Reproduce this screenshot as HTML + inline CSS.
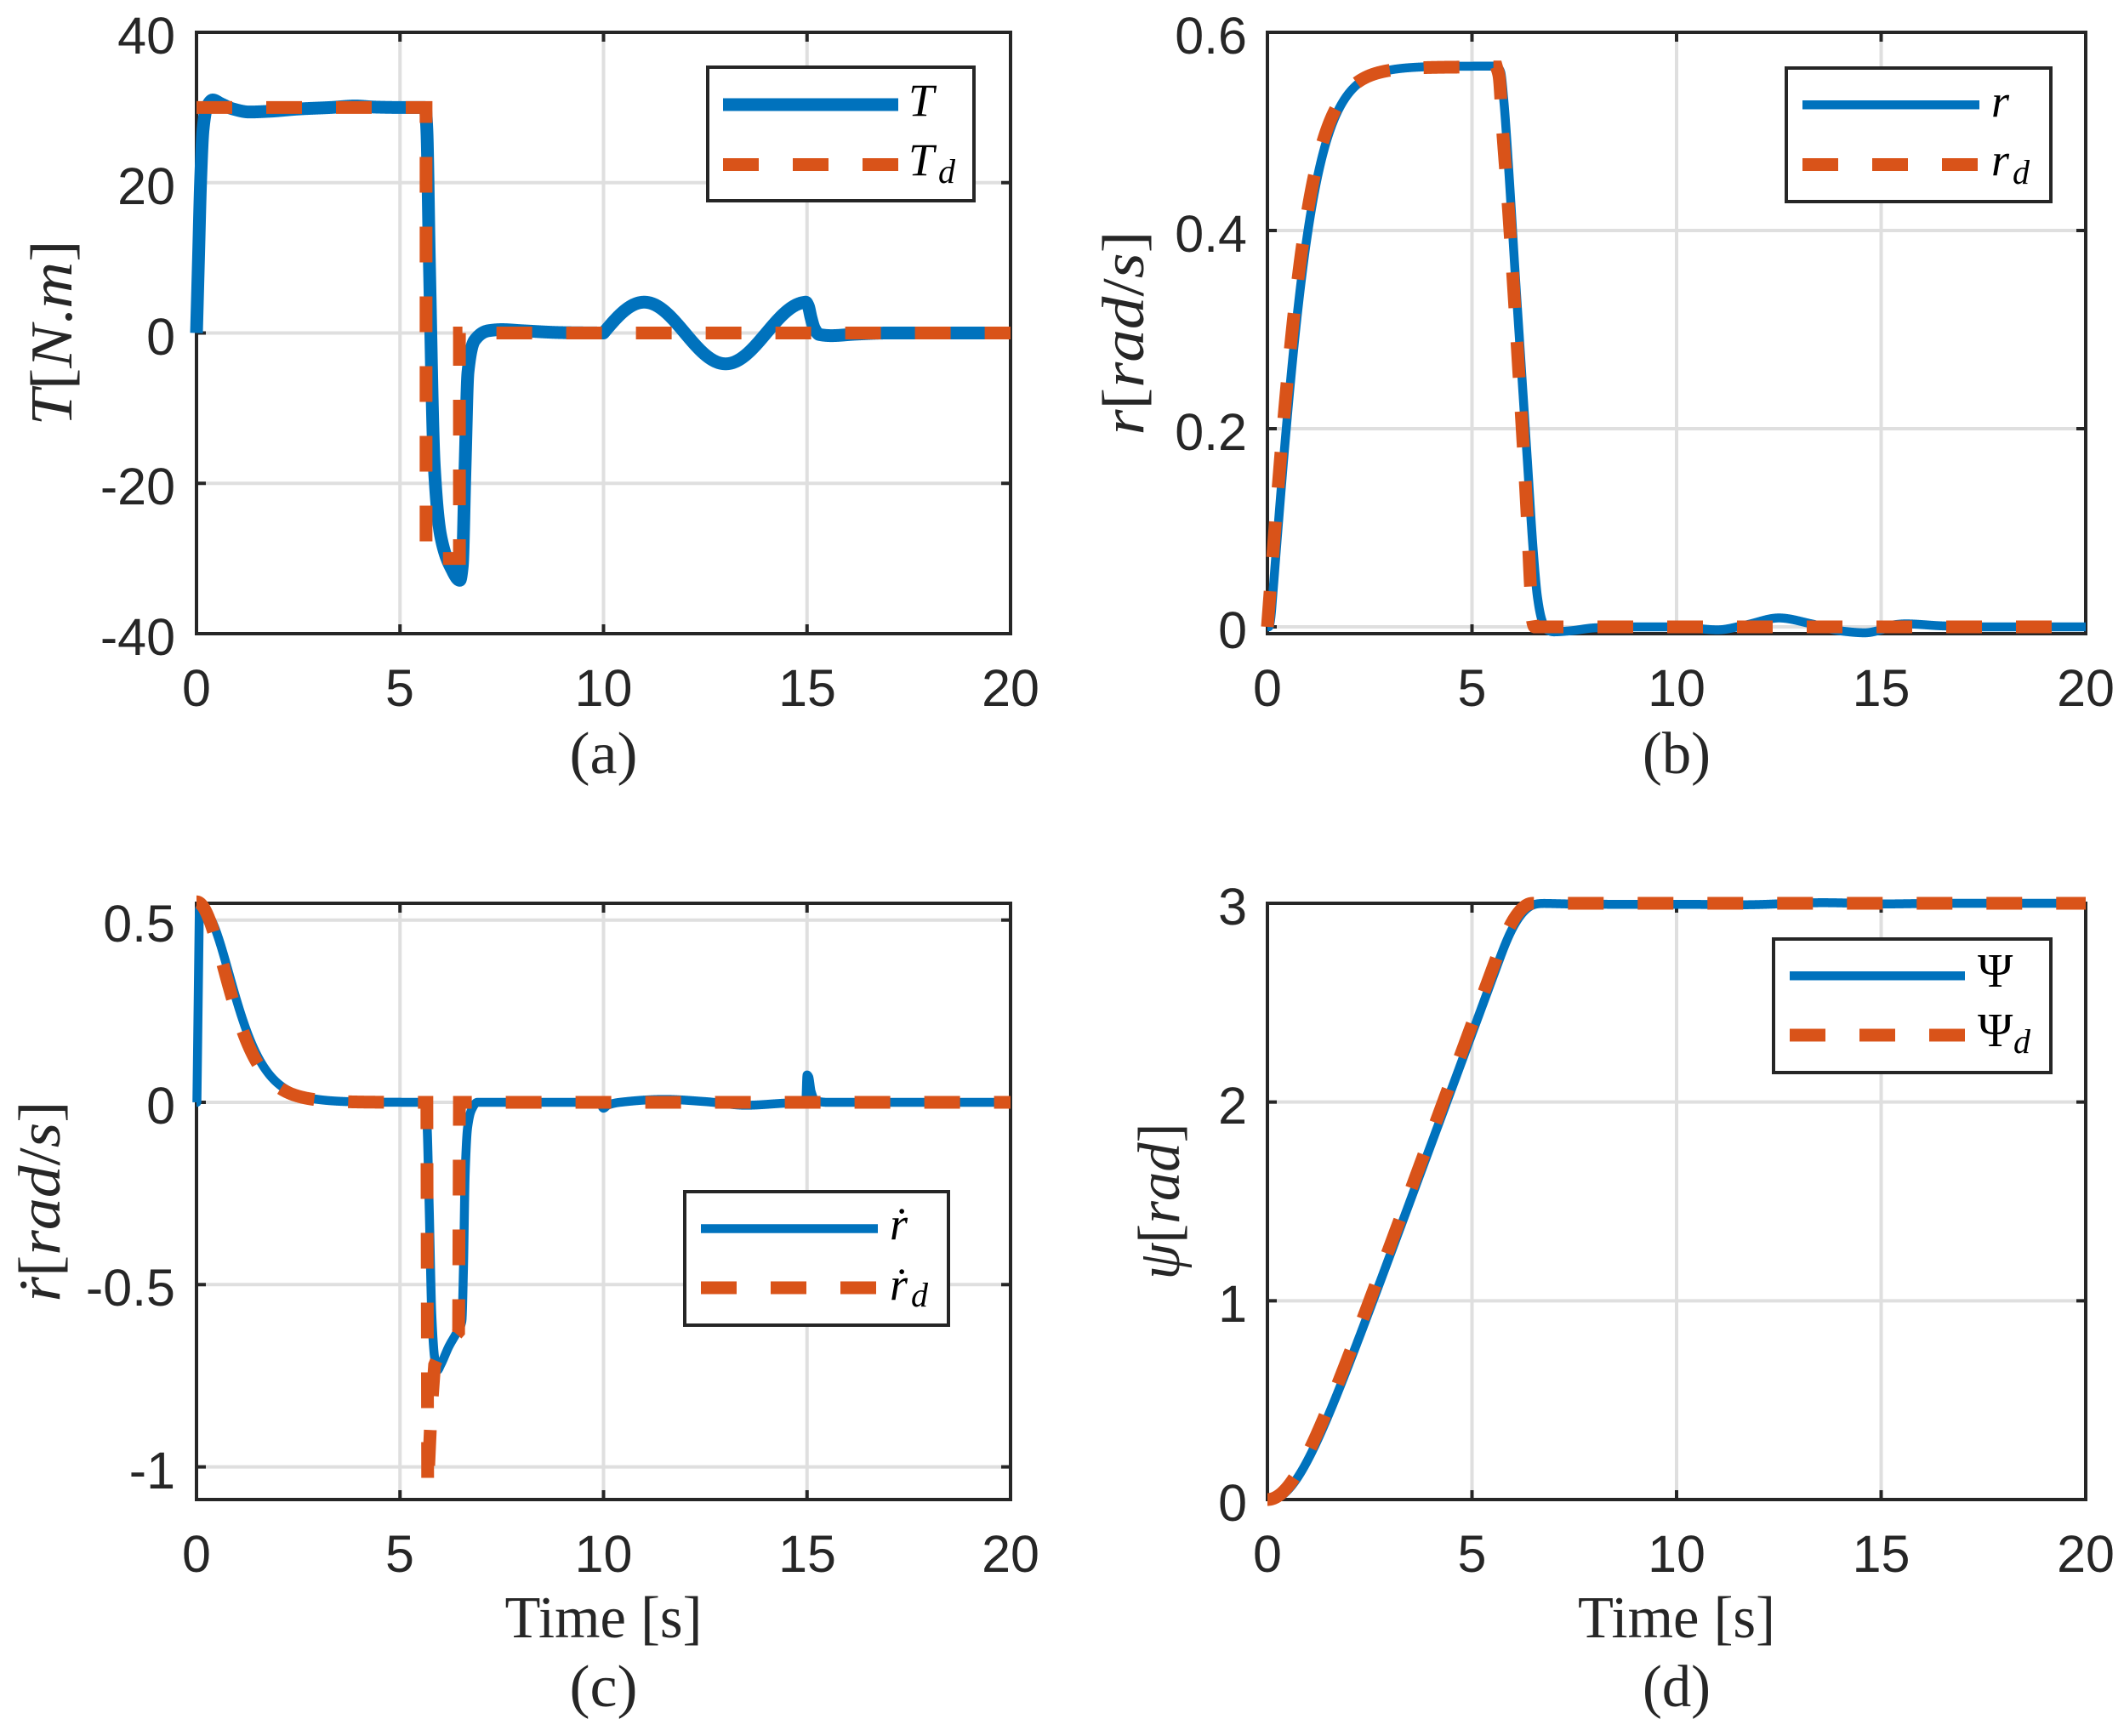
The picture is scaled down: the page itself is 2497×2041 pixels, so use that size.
<!DOCTYPE html>
<html><head><meta charset="utf-8">
<style>
html,body{margin:0;padding:0;background:#fff;}
svg{display:block;}
.tk{font-family:"Liberation Sans",Arial,sans-serif;font-size:61px;fill:#262626;}
.sf{font-family:"Liberation Serif","DejaVu Serif",serif;fill:#262626;font-size:70px;}
.lg{font-family:"Liberation Serif","DejaVu Serif",serif;fill:#000;font-style:italic;font-size:54px;}
.lgu{font-family:"Liberation Serif","DejaVu Serif",serif;fill:#000;font-size:56px;}
.sub{font-family:"Liberation Serif","DejaVu Serif",serif;fill:#000;font-style:italic;font-size:40px;}
</style></head><body>
<svg id="s" xmlns="http://www.w3.org/2000/svg" width="2497" height="2041" viewBox="0 0 2497 2041">
<rect x="0" y="0" width="2497" height="2041" fill="#fff"/>
<g id="grid"></g>
<g id="axes"></g>
<g id="data"></g>

<!-- tick labels (a) -->
<g class="tk" text-anchor="end">
<text x="206" y="63">40</text><text x="206" y="240">20</text><text x="206" y="417">0</text><text x="206" y="593">-20</text><text x="206" y="770">-40</text>
<text x="1466" y="63">0.6</text><text x="1466" y="296">0.4</text><text x="1466" y="529">0.2</text><text x="1466" y="762">0</text>
<text x="206" y="1107">0.5</text><text x="206" y="1321">0</text><text x="206" y="1535">-0.5</text><text x="206" y="1750">-1</text>
<text x="1466" y="1087">3</text><text x="1466" y="1321">2</text><text x="1466" y="1554">1</text><text x="1466" y="1788">0</text>
</g>
<g class="tk" text-anchor="middle">
<text x="231" y="830">0</text><text x="470" y="830">5</text><text x="709.5" y="830">10</text><text x="949" y="830">15</text><text x="1188" y="830">20</text>
<text x="1490" y="830">0</text><text x="1730.5" y="830">5</text><text x="1971" y="830">10</text><text x="2211.5" y="830">15</text><text x="2452" y="830">20</text>
<text x="231" y="1848">0</text><text x="470" y="1848">5</text><text x="709.5" y="1848">10</text><text x="949" y="1848">15</text><text x="1188" y="1848">20</text>
<text x="1490" y="1848">0</text><text x="1730.5" y="1848">5</text><text x="1971" y="1848">10</text><text x="2211.5" y="1848">15</text><text x="2452" y="1848">20</text>
</g>

<!-- x labels and captions -->
<g class="sf" text-anchor="middle">
<text x="709.5" y="1925" textLength="232" lengthAdjust="spacingAndGlyphs">Time [s]</text>
<text x="1971" y="1925" textLength="232" lengthAdjust="spacingAndGlyphs">Time [s]</text>
<text x="709.5" y="909" textLength="80" lengthAdjust="spacingAndGlyphs">(a)</text>
<text x="1971" y="909" textLength="80" lengthAdjust="spacingAndGlyphs">(b)</text>
<text x="709.5" y="2006" textLength="80" lengthAdjust="spacingAndGlyphs">(c)</text>
<text x="1971" y="2006" textLength="80" lengthAdjust="spacingAndGlyphs">(d)</text>
</g>

<!-- y labels -->
<g class="sf" text-anchor="middle">
<text transform="translate(84,391.5) rotate(-90)" x="0" y="0" textLength="218" lengthAdjust="spacingAndGlyphs"><tspan font-style="italic">T</tspan>[<tspan font-style="italic">N</tspan>.<tspan font-style="italic">m</tspan>]</text>
<text transform="translate(1344,391.5) rotate(-90)" x="0" y="0" textLength="240" lengthAdjust="spacingAndGlyphs"><tspan font-style="italic">r</tspan>[<tspan font-style="italic">rad</tspan>/<tspan font-style="italic">s</tspan>]</text>
<text transform="translate(70,1412.5) rotate(-90)" x="0" y="0" textLength="236" lengthAdjust="spacingAndGlyphs"><tspan font-style="italic">ṙ</tspan>[<tspan font-style="italic">rad</tspan>/<tspan font-style="italic">s</tspan>]</text>
<text transform="translate(1386,1412.5) rotate(-90)" x="0" y="0" textLength="184" lengthAdjust="spacingAndGlyphs"><tspan font-style="italic">ψ</tspan>[<tspan font-style="italic">rad</tspan>]</text>
</g>

<!-- legends -->
<g id="legends">
<rect x="832" y="79" width="313" height="157" fill="#fff" stroke="#262626" stroke-width="4"/>
<line x1="850" y1="123" x2="1056" y2="123" stroke="#0072BD" stroke-width="15"/>
<line x1="850" y1="193.5" x2="1056" y2="193.5" stroke="#D95319" stroke-width="15" stroke-dasharray="42 40"/>
<text class="lg" x="1068" y="136">T</text>
<text class="lg" x="1068" y="206">T</text><text class="sub" x="1103" y="215">d</text>

<rect x="2100" y="80" width="311" height="157" fill="#fff" stroke="#262626" stroke-width="4"/>
<line x1="2119" y1="123.3" x2="2327" y2="123.3" stroke="#0072BD" stroke-width="10.5"/>
<line x1="2119" y1="193.5" x2="2327" y2="193.5" stroke="#D95319" stroke-width="15" stroke-dasharray="42 40"/>
<text class="lg" x="2341" y="137">r</text>
<text class="lg" x="2341" y="206">r</text><text class="sub" x="2366" y="216">d</text>

<rect x="805" y="1401" width="310" height="157" fill="#fff" stroke="#262626" stroke-width="4"/>
<line x1="824" y1="1444.5" x2="1032" y2="1444.5" stroke="#0072BD" stroke-width="10.5"/>
<line x1="824" y1="1514" x2="1032" y2="1514" stroke="#D95319" stroke-width="15" stroke-dasharray="42 40"/>
<text class="lg" x="1046" y="1457">ṙ</text>
<text class="lg" x="1046" y="1528">ṙ</text><text class="sub" x="1071" y="1536">d</text>

<rect x="2085" y="1104" width="326" height="157" fill="#fff" stroke="#262626" stroke-width="4"/>
<line x1="2104" y1="1147.3" x2="2310" y2="1147.3" stroke="#0072BD" stroke-width="10.5"/>
<line x1="2104" y1="1217" x2="2310" y2="1217" stroke="#D95319" stroke-width="15" stroke-dasharray="42 40"/>
<text class="lgu" x="2325" y="1160">Ψ</text>
<text class="lgu" x="2325" y="1230">Ψ</text><text class="sub" x="2367" y="1238">d</text>
</g>
</svg>

<script>
(function(){
var NS="http://www.w3.org/2000/svg";
function el(p,tag,a){var e=document.createElementNS(NS,tag);for(var k in a)e.setAttribute(k,a[k]);p.appendChild(e);return e;}
function pchip(P){
  var n=P.length,x=[],y=[],h=[],d=[],m=[],i;
  for(i=0;i<n;i++){x.push(P[i][0]);y.push(P[i][1]);}
  for(i=0;i<n-1;i++){h[i]=x[i+1]-x[i];d[i]=(y[i+1]-y[i])/h[i];}
  m[0]=d[0];m[n-1]=d[n-2];
  for(i=1;i<n-1;i++){
    if(d[i-1]*d[i]<=0)m[i]=0;
    else{var w1=2*h[i]+h[i-1],w2=h[i]+2*h[i-1];m[i]=(w1+w2)/(w1/d[i-1]+w2/d[i]);}
  }
  return function(t){
    if(t<=x[0])return y[0]; if(t>=x[n-1])return y[n-1];
    var j=0; while(t>x[j+1])j++;
    var hh=h[j],s=(t-x[j])/hh,s2=s*s,s3=s2*s;
    return (2*s3-3*s2+1)*y[j]+(s3-2*s2+s)*hh*m[j]+(-2*s3+3*s2)*y[j+1]+(s3-s2)*hh*m[j+1];
  };
}
function sample(f,t0,t1,dt){var out=[],n=Math.max(1,Math.round((t1-t0)/dt));for(var i=0;i<=n;i++){var t=t0+(t1-t0)*i/n;out.push([t,f(t)]);}return out;}
function sech2(x){var c=Math.cosh(x);return 1/(c*c);}

var P={
 a:{L:231,R:1188,T:38,B:745,y0:-40,y1:40,yt:[-40,-20,0,20,40]},
 b:{L:1490,R:2452,T:38,B:745,y0:-0.006867,y1:0.6,yt:[0,0.2,0.4,0.6]},
 c:{L:231,R:1188,T:1062,B:1763,y0:-1.08959,y1:0.54596,yt:[-1,-0.5,0,0.5]},
 d:{L:1490,R:2452,T:1062,B:1763,y0:0,y1:3,yt:[0,1,2,3]}
};
function X(p,t){return p.L+(p.R-p.L)*t/20;}
function Y(p,v){return p.B-(p.B-p.T)*(v-p.y0)/(p.y1-p.y0);}
var grid=document.getElementById('grid'),axes=document.getElementById('axes'),data=document.getElementById('data');
var ax='#262626';
for(var k in P){var p=P[k];
  for(var t=0;t<=20;t+=5){var x=X(p,t);
    el(grid,'line',{x1:x,y1:p.T,x2:x,y2:p.B,stroke:'#dfdfdf','stroke-width':4});
    el(axes,'line',{x1:x,y1:p.B,x2:x,y2:p.B-11,stroke:ax,'stroke-width':4});
    el(axes,'line',{x1:x,y1:p.T,x2:x,y2:p.T+11,stroke:ax,'stroke-width':4});
  }
  for(var q=0;q<p.yt.length;q++){var y=Y(p,p.yt[q]);
    el(grid,'line',{x1:p.L,y1:y,x2:p.R,y2:y,stroke:'#dfdfdf','stroke-width':4});
    el(axes,'line',{x1:p.L,y1:y,x2:p.L+11,y2:y,stroke:ax,'stroke-width':4});
    el(axes,'line',{x1:p.R,y1:y,x2:p.R-11,y2:y,stroke:ax,'stroke-width':4});
  }
  el(axes,'rect',{x:p.L,y:p.T,width:p.R-p.L,height:p.B-p.T,fill:'none',stroke:ax,'stroke-width':4,'stroke-linejoin':'miter'});
}
function path(p,pts,color,w,dash){
  var d='';for(var i=0;i<pts.length;i++){d+=(i?'L':'M')+X(p,pts[i][0]).toFixed(2)+' '+Y(p,pts[i][1]).toFixed(2);}
  var a={d:d,fill:'none',stroke:color,'stroke-width':w,'stroke-linecap':'butt','stroke-linejoin':dash?'miter':'round'};
  if(dash)a['stroke-dasharray']='42 40';
  el(data,'path',a);
}
var BL='#0072BD',OR='#D95319',DT=0.005;

/* (a) */
var pA=pchip([[0,0],[0.05,10],[0.1,20],[0.16,27],[0.25,30],[0.4,31],[0.6,30.5],[0.9,29.8],[1.3,29.4],[1.8,29.5],[2.5,29.8],[3.3,30],[3.9,30.2],[4.4,30.05],[5,30],[5.62,30],[5.66,27],[5.72,10],[5.84,-17.5],[6.0,-27],[6.25,-31.2],[6.47,-32.9],[6.53,-31],[6.6,-17.5],[6.67,-5.2],[6.83,-1],[7.17,0.3],[7.5,0.45],[8,0.3],[9,0.05],[10,0]]);
var amp=4.1;
var pA2=pchip([[14.9,amp*Math.sin(Math.PI*4.9/2)],[14.97,amp],[15.03,3.6],[15.1,2.0],[15.18,0.6],[15.3,-0.2],[15.6,-0.35],[16.2,-0.15],[17,0],[20,0]]);
function Tb(t){if(t<10)return pA(t);if(t<14.9)return amp*Math.sin(Math.PI*(t-10)/2);return pA2(t);}
path(P.a,sample(Tb,0,20,DT),BL,15,false);
path(P.a,[[0,30],[5.64,30],[5.64,-30],[6.46,-30],[6.46,0],[20,0]],OR,15,true);

/* (b) */
function rform(t){if(t<0.03)return 0;if(t<0.11)return 0.53*(t-0.03)*(t-0.03)/0.16;return 0.0212+0.5447*Math.tanh(0.973*(t-0.11));}
var pB=pchip([[5.62,rform(5.62)],[5.7,0.56],[5.78,0.53],[5.9,0.46],[6.05,0.36],[6.2,0.265],[6.35,0.17],[6.5,0.075],[6.6,0.03],[6.7,0.008],[6.8,-0.002],[7.0,-0.005],[7.4,-0.004],[8,-0.001],[9,0],[10,0],[11,-0.003],[11.7,0.002],[12.5,0.009],[13.3,0.003],[14.0,-0.004],[14.6,-0.006],[15.0,-0.003],[15.3,0.002],[15.6,0.003],[16.5,0.001],[17.5,0],[20,0]]);
function rb(t){return t<5.62?rform(t):pB(t);}
var pBd=pchip([[5.6,0.565*Math.tanh(0.973*5.6)],[5.66,0.556],[5.75,0.5],[5.86,0.44],[6.02,0.34],[6.19,0.225],[6.35,0.11],[6.43,0.04],[6.48,0.006],[6.53,0],[20,0]]);
function rd(t){return t<5.6?0.565*Math.tanh(0.973*t):pBd(t);}
path(P.b,sample(rb,0,20,DT),BL,10.5,false);
path(P.b,sample(rd,0,20,DT),OR,15,true);

/* (c) */
function rdf(t){if(t<0.01)return 0;if(t<0.07)return 0.53*(t-0.01)/0.06;if(t<0.12)return 0.53;return 0.53*sech2(0.973*(t-0.12));}
var pC=pchip([[5.62,rdf(5.62)],[5.66,-0.05],[5.72,-0.3],[5.78,-0.58],[5.85,-0.7],[5.92,-0.735],[6.0,-0.72],[6.2,-0.67],[6.4,-0.63],[6.52,-0.6],[6.56,-0.45],[6.6,-0.2],[6.66,-0.07],[6.76,-0.02],[6.9,0],[9.9,0],[10.0,-0.016],[10.1,-0.008],[10.4,0],[11.5,0.008],[12.5,0.002],[13.5,-0.008],[14.5,-0.002],[14.97,0],[15.0,0.075],[15.04,0.07],[15.1,0.03],[15.2,0.005],[15.5,0],[20,0]]);
function rdb(t){return t<5.62?rdf(t):pC(t);}
path(P.c,sample(rdb,0,20,DT),BL,10.5,false);
var rdd=sample(function(t){return 0.55*sech2(0.973*t);},0,5.66,DT).concat([[5.68,-1.06],[5.76,-0.86],[5.85,-0.72],[6.0,-0.68],[6.2,-0.66],[6.44,-0.63],[6.46,0],[20,0]]);
path(P.c,rdd,OR,15,true);

/* (d) */
function integ(f,T1,dt){var out=[[0,0]],s=0,prev=f(0);var n=Math.round(T1/dt);for(var i=1;i<=n;i++){var t=i*dt,c=f(t);s+=(prev+c)/2*dt;prev=c;out.push([t,s]);}var sc=3/s;for(var j=0;j<out.length;j++)out[j][1]*=sc;return out;}
path(P.d,integ(rb,20,DT),BL,10.5,false);
path(P.d,integ(rd,20,DT),OR,15,true);
})();
</script>
</body></html>
